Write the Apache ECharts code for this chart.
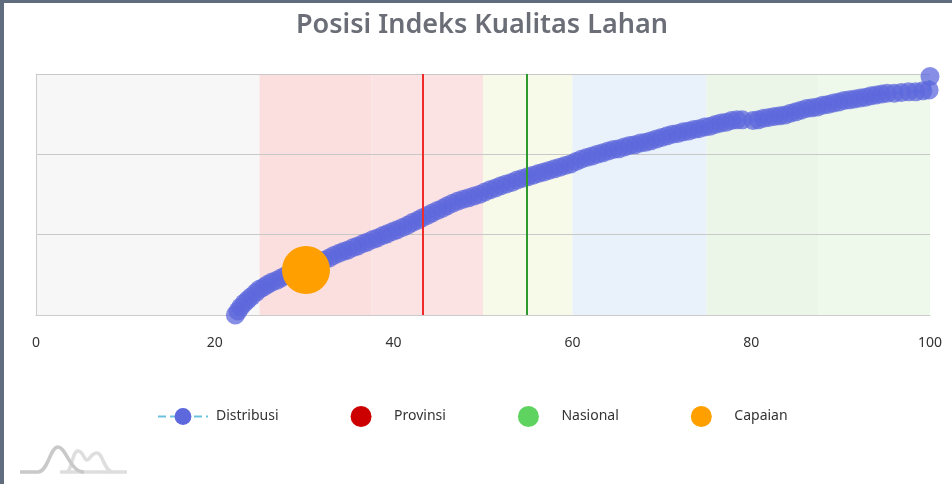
<!DOCTYPE html>
<html>
<head>
<meta charset="utf-8">
<script src="https://cdn.jsdelivr.net/npm/echarts@6/dist/echarts.min.js"></script>
<style>
  html, body { margin: 0; padding: 0; background: #fff; }
  #frame { position: absolute; left: 0; top: 0; width: 948px; height: 481px;
           border-left: 4px solid #5f6d7e; border-top: 3px solid #5f6d7e; }
  #chart { position: absolute; left: 0; top: 0; width: 952px; height: 484px; }
</style>
</head>
<body>
<div id="frame"></div>
<div id="chart"></div>
<script>
// ---------- data ----------
const titleText = 'Posisi Indeks Kualitas Lahan';
const legendNames = ['Distribusi', 'Provinsi', 'Nasional', 'Capaian'];
const xTicks = [0, 20, 40, 60, 80, 100];

// Distribusi: [index value, cumulative position]
const distribusi = [
  [22.3,0.00],[22.6,0.05],[22.9,0.10],[23.3,0.15],[23.7,0.19],[24.1,0.23],[24.6,0.28],[25.0,0.32],
  [25.5,0.35],[25.9,0.38],[26.4,0.41],[26.9,0.43],[27.4,0.46],[27.9,0.49],[28.5,0.51],[29.0,0.54],
  [29.6,0.56],[30.1,0.58],[30.6,0.60],[31.2,0.63],[31.7,0.65],[32.2,0.68],[32.8,0.71],[33.3,0.74],
  [33.9,0.77],[34.4,0.79],[34.9,0.81],[35.5,0.84],[36.0,0.86],[36.6,0.89],[37.1,0.91],[37.7,0.94],
  [38.2,0.96],[38.8,0.99],[39.3,1.01],[39.9,1.04],[40.4,1.06],[41.0,1.09],[41.6,1.12],[42.1,1.15],
  [42.7,1.18],[43.2,1.21],[43.8,1.24],[44.3,1.27],[44.9,1.30],[45.5,1.33],[46.0,1.36],[46.6,1.39],
  [47.2,1.42],[47.8,1.44],[48.4,1.46],[49.0,1.48],[49.6,1.50],[50.2,1.53],[50.8,1.56],[51.4,1.58],
  [52.0,1.61],[52.6,1.63],[53.2,1.65],[53.8,1.68],[54.4,1.70],[55.0,1.72],[55.6,1.74],[56.2,1.76],
  [56.8,1.78],[57.4,1.80],[58.0,1.82],[58.6,1.84],[59.2,1.86],[59.8,1.88],[60.4,1.91],[61.0,1.94],
  [61.6,1.96],[62.2,1.98],[62.8,2.00],[63.4,2.02],[64.0,2.04],[64.6,2.06],[65.2,2.07],[65.8,2.09],
  [66.4,2.11],[67.0,2.12],[67.6,2.14],[68.2,2.15],[68.8,2.17],[69.4,2.19],[70.0,2.21],[70.6,2.23],
  [71.2,2.25],[71.8,2.26],[72.4,2.28],[73.0,2.29],[73.6,2.31],[74.2,2.32],[74.8,2.34],[75.4,2.35],
  [76.0,2.37],[76.6,2.39],[77.2,2.40],[77.8,2.42],[78.4,2.43],[79.0,2.43],[80.2,2.42],[80.8,2.43],
  [81.4,2.45],[82.0,2.46],[82.6,2.47],[83.2,2.48],[83.8,2.49],[84.4,2.51],[85.0,2.53],[85.6,2.55],
  [86.2,2.57],[86.8,2.58],[87.4,2.59],[88.0,2.61],[88.6,2.62],[89.2,2.64],[89.8,2.65],[90.4,2.67],
  [91.0,2.68],[91.6,2.69],[92.2,2.70],[92.8,2.71],[93.4,2.73],[94.0,2.74],[94.6,2.75],[95.2,2.76],
  [96.0,2.76],[96.8,2.77],[97.6,2.78],[98.4,2.78],[99.2,2.79],[99.9,2.80],[100.0,2.97]
];
const provinsi = 43.3;
const nasional = 54.9;
const capaian = [30.2, 0.56];

// category bands [from, to]
const bands = [[0,25],[25,37.5],[37.5,50],[50,60],[60,75],[75,87.5],[87.5,100]];
const bandColors = ['#f7f7f7','#fbdfdf','#fce3e3','#f8fae9','#e9f2fa','#ebf6e8','#eef8eb'];

// ---------- chart ----------
const chart = echarts.init(document.getElementById('chart'));

function bz(p, color) {
  return { type: 'bezierCurve', z: 100, silent: true,
    shape: { x1: p[0], y1: p[1], cpx1: p[2], cpy1: p[3], cpx2: p[4], cpy2: p[5], x2: p[6], y2: p[7] },
    style: { fill: null, stroke: color, lineWidth: 3.5 } };
}
function ln(p, color) {
  return { type: 'line', z: 100, silent: true,
    shape: { x1: p[0], y1: p[1], x2: p[2], y2: p[3] },
    style: { stroke: color, lineWidth: 3.5 } };
}
const light = '#dedede', dark = '#c9c9c9';

chart.setOption({
  animation: false,
  backgroundColor: 'transparent',
  title: {
    text: titleText, left: 291, top: 7,
    textStyle: { fontFamily: 'Noto Sans', fontWeight: 600, fontSize: 27, color: '#6b6e77' }
  },
  grid: { left: 36, right: 22, top: 74, bottom: 169 },
  legend: {
    data: [
      { name: 'Distribusi', itemStyle: { opacity: 1 } },
      { name: 'Provinsi', itemStyle: { opacity: 1 } },
      { name: 'Nasional', itemStyle: { opacity: 1 } },
      { name: 'Capaian', itemStyle: { opacity: 1 } }
    ],
    left: 152, top: 401, itemWidth: 50, itemHeight: 21, itemGap: 72,
    textStyle: { fontFamily: 'Noto Sans', fontSize: 14, color: '#333', padding: [0,0,0,3] }
  },
  xAxis: {
    type: 'value', min: xTicks[0], max: xTicks[xTicks.length-1], interval: 20, z: 2,
    axisLine: { lineStyle: { color: '#ccc' } }, axisTick: { show: false }, splitLine: { show: false },
    axisLabel: { margin: 21, fontFamily: 'Noto Sans', fontSize: 14, color: '#333' }
  },
  yAxis: {
    type: 'value', min: 0, max: 3, interval: 1, z: 2,
    axisLine: { show: true, lineStyle: { color: '#ccc' } }, axisTick: { show: false },
    axisLabel: { show: false }, splitLine: { lineStyle: { color: '#c8c8c8' } }
  },
  series: [
    {
      name: 'bands', type: 'line', data: [], z: 1, silent: true,
      markArea: {
        silent: true,
        data: bands.map((b, i) => [{ xAxis: b[0], itemStyle: { color: bandColors[i] } }, { xAxis: b[1] }])
      }
    },
    {
      name: 'Distribusi', type: 'line', data: distribusi, symbol: 'circle', symbolSize: 19,
      itemStyle: { color: '#5d68dc', opacity: 0.75 },
      lineStyle: { color: '#6cc3e0', width: 3, type: 'dashed' },
      z: 3
    },
    {
      name: 'Provinsi', type: 'scatter', data: [], itemStyle: { color: '#cc0000', opacity: 1 },
      markLine: { silent: true, symbol: 'none', label: { show: false },
        lineStyle: { color: '#ee2a2a', width: 2, type: 'solid', opacity: 1 }, data: [{ xAxis: provinsi }] },
      z: 4
    },
    {
      name: 'Nasional', type: 'scatter', data: [], itemStyle: { color: '#5fd35f', opacity: 1 },
      markLine: { silent: true, symbol: 'none', label: { show: false },
        lineStyle: { color: '#2e9a2e', width: 2, type: 'solid', opacity: 1 }, data: [{ xAxis: nasional }] },
      z: 4
    },
    {
      name: 'Capaian', type: 'scatter', data: [capaian], symbolSize: 48,
      itemStyle: { color: '#ff9f00', opacity: 1 }, z: 6
    }
  ],
  graphic: [
    ln([60, 472, 127, 472], light),
    bz([66, 472, 72, 472, 72, 451, 78, 451], light),
    bz([78, 451, 83, 451, 84, 460, 87, 460], light),
    bz([87, 460, 90, 460, 91, 453, 97, 453], light),
    bz([97, 453, 103, 453, 104, 472, 113, 472], light),
    ln([20, 472, 38, 472], dark),
    bz([38, 472, 48, 472, 50, 447, 58, 447], dark),
    bz([58, 447, 66, 447, 70, 472, 84, 472], dark)
  ]
});
</script>
</body>
</html>
